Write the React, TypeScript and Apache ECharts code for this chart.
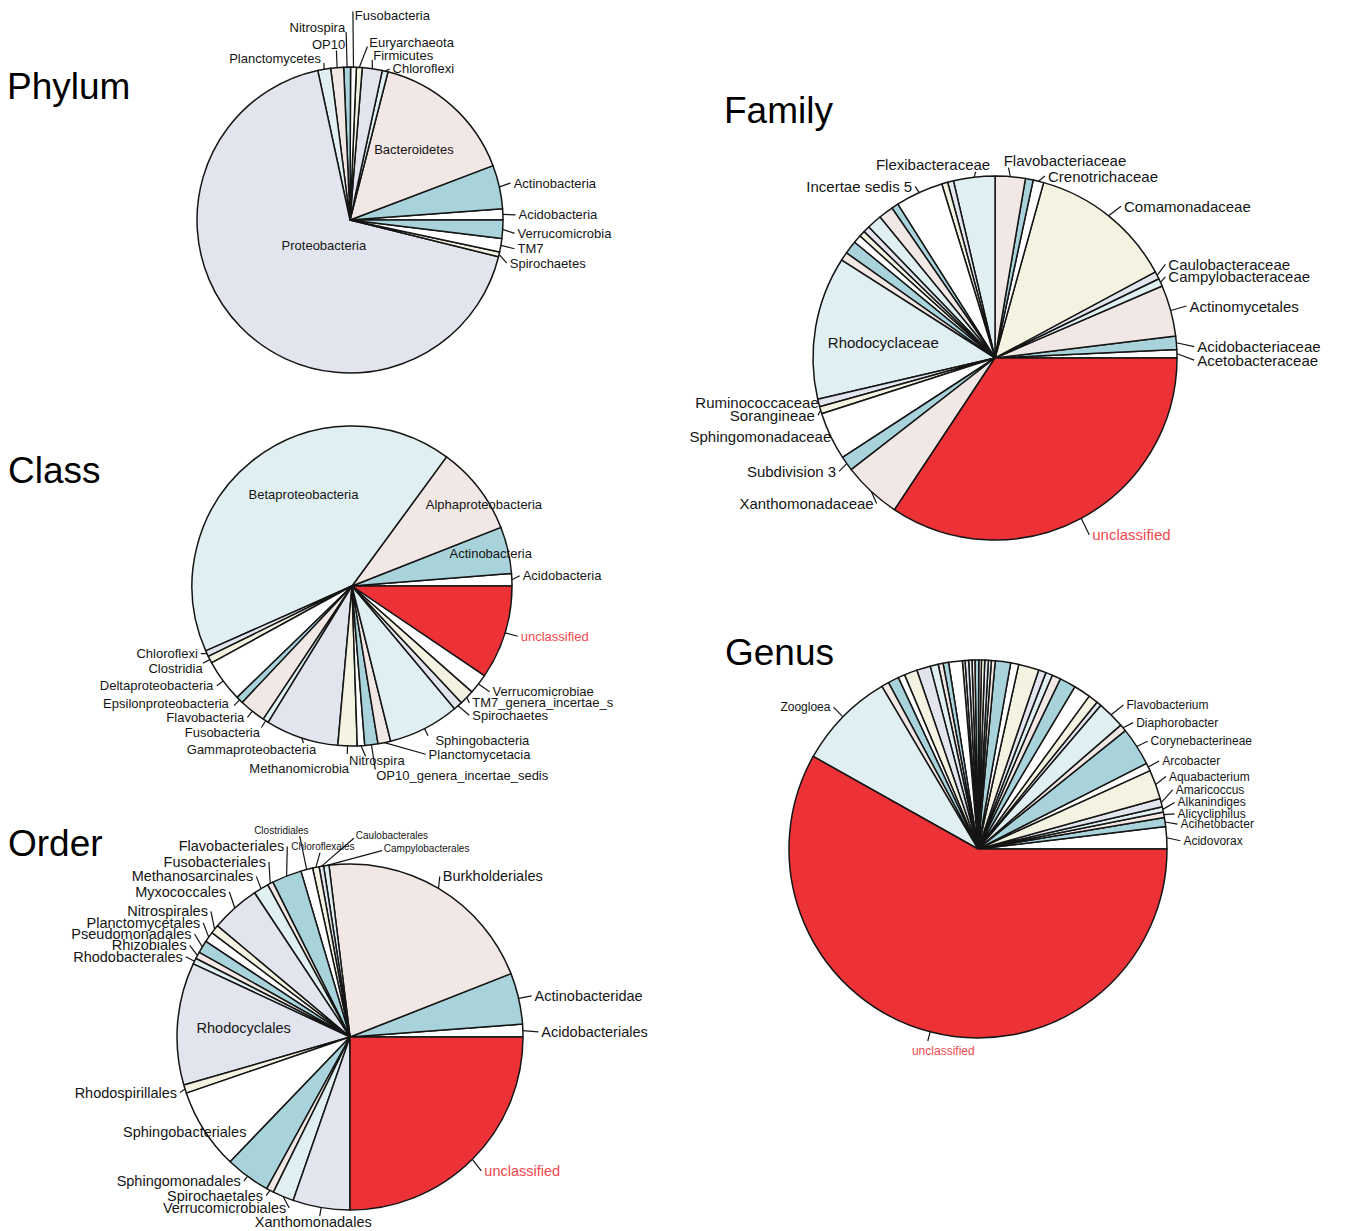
import React, { useEffect, useRef } from "react";
import * as echarts from "echarts";

const FONT = "'Liberation Sans', Arial, Helvetica, sans-serif";
const INK = "#151515";
// Slice fills cycle through this palette in data order; "unclassified" is always red.
const SLICE_CYCLE = ["#ffffff", "#a8d3db", "#f1e7e4", "#e0eff1", "#e3e5ee", "#f4f3e2"];
const UNCLASSIFIED = "unclassified";
const UNCLASSIFIED_FILL = "#ec3137";
const UNCLASSIFIED_TEXT = "#f0494e";

const blank = (n: number) => Array.from({ length: n }, () => "");

// ---------- Phylum (% of reads) ----------
const phylumNames = [
  "Acidobacteria", "Actinobacteria", "Bacteroidetes", "Chloroflexi", "Firmicutes", "Euryarchaeota",
  "Fusobacteria", "Nitrospira", "OP10", "Planctomycetes", "Proteobacteria", "Spirochaetes", "TM7",
  "Verrucomicrobia",
];
const phylumShares = [1.17, 4.61, 15.22, 0.61, 2.11, 0.61, 0.61, 0.72, 1.36, 1.36, 67.75, 0.5, 1.42, 1.94];

// ---------- Class ----------
const classNames = [
  "Acidobacteria", "Actinobacteria", "Alphaproteobacteria", "Betaproteobacteria", "Chloroflexi",
  "Clostridia", "Deltaproteobacteria", "Epsilonproteobacteria", "Flavobacteria", "Fusobacteria",
  "Gammaproteobacteria", "Methanomicrobia", "Nitrospira", "OP10_genera_incertae_sedis",
  "Planctomycetacia", "Sphingobacteria", "Spirochaetes", "TM7_genera_incertae_sedis",
  "Verrucomicrobiae", "unclassified",
];
const classShares = [
  1.25, 4.72, 8.97, 41.69, 0.61, 0.72, 4.28, 0.72, 2.67, 0.58, 7.36, 1.94, 0.75, 1.33, 1.28, 7.19,
  0.92, 1.5, 2.03, 9.47,
];

// ---------- Order ----------
const orderNames = [
  "Acidobacteriales", "Actinobacteridae", "Burkholderiales", "Campylobacterales", "Caulobacterales",
  "Chloroflexales", "Clostridiales", "Flavobacteriales", "Fusobacteriales", "Methanosarcinales",
  "Myxococcales", "Nitrospirales", "Planctomycetales", "Pseudomonadales", "Rhizobiales",
  "Rhodobacterales", "Rhodocyclales", "Rhodospirillales", "Sphingobacteriales", "Sphingomonadales",
  "Spirochaetales", "Verrucomicrobiales", "Xanthomonadales", "unclassified",
];
const orderShares = [
  1.19, 4.78, 20.97, 0.5, 0.42, 0.61, 1.11, 2.78, 0.53, 1.42, 4.58, 0.83, 0.97, 1.17, 0.64, 0.56,
  11.42, 0.78, 7.56, 4.19, 0.69, 1.97, 5.33, 25.0,
];

// ---------- Family (empty name = slice without a label) ----------
const familyNames = [
  "Acetobacteraceae", "Acidobacteriaceae", "Actinomycetales", "Campylobacteraceae", "Caulobacteraceae",
  "Comamonadaceae", "Crenotrichaceae", "", "Flavobacteriaceae", "Flexibacteraceae", "", "",
  "Incertae sedis 5", ...blank(8), "Rhodocyclaceae", "Ruminococcaceae", "Sorangineae",
  "Sphingomonadaceae", "Subdivision 3", "Xanthomonadaceae", "unclassified",
];
const familyShares = [
  0.75, 1.17, 4.56, 0.69, 0.67, 12.86, 0.94, 0.69, 2.67, 3.67, 0.53, 0.53, 4.25, 0.61, 1.31, 1.31,
  0.58, 0.53, 0.72, 1.17, 0.75, 12.69, 0.67, 0.64, 4.25, 1.31, 5.19, 34.31,
];

// ---------- Genus ----------
const genusNames = [
  "Acidovorax", "Acinetobacter", "Alicycliphilus", "Alkanindiges", "Amaricoccus", "Aquabacterium",
  "Arcobacter", "Corynebacterineae", "Diaphorobacter", "Flavobacterium", ...blank(29), "Zoogloea",
  "unclassified",
];
const genusShares = [
  1.89, 0.78, 0.47, 0.44, 0.72, 2.5, 0.69, 3.28, 0.61, 2.36,
  0.42, 0.83, 1.44, 1.39, 0.75, 0.58, 0.64, 1.75, 0.69, 1.31,
  0.33, 0.25, 0.31, 0.28, 0.22, 0.33, 0.25, 0.28, 0.31, 0.22,
  1.17, 0.47, 0.42, 0.69, 1.17, 1.11, 0.58, 0.92, 0.64,
  8.36, 58.14,
];

// ---------- label placement ----------
// Offsets are measured on a pie of half-axes refRx/refRy and rescaled to the drawn radius.
// Labels without an entry use the classic placement: text at 1.1 r, tick from r to 1.05 r.
type Align = "left" | "right" | "center";
type LineSpec = "none" | "tick" | [number, number];
type Spot = { at: [number, number]; align?: Align; line?: LineSpec };
const sp = (x: number, y: number, align?: Align, line?: LineSpec): Spot => ({ at: [x, y], align, line });

interface Panel {
  title: string;
  titleLeft: number;
  titleTop: number;
  names: string[];
  shares: number[];
  center: [number, number];
  radius: number;
  refRx: number;
  refRy: number;
  fontSize: number;
  smallFont?: Record<string, number>;
  truncate?: Record<string, number>;
  spots: Record<string, Spot>;
}

const phylumSpots: Record<string, Spot> = {
  Bacteroidetes: sp(66, -69, "center", "none"),
  Proteobacteria: sp(-27, 25, "center", "none"),
  Actinobacteria: sp(169, -36),
  Acidobacteria: sp(174, -5),
  Verrucomicrobia: sp(173, 13),
  TM7: sp(173, 28),
  Spirochaetes: sp(165, 42),
  Chloroflexi: sp(44, -148, "left", [41, -147]),
  Firmicutes: sp(24, -160, "left", [23, -156]),
  Euryarchaeota: sp(20, -173, "left", [18, -169]),
  Fusobacteria: sp(5, -199, "left", [3, -203]),
  Nitrospira: sp(-5, -187, "right", [-4, -183]),
  OP10: sp(-5, -171, "right", [-14, -165]),
  Planctomycetes: sp(-30, -157, "right", [-27, -153]),
};

const classSpots: Record<string, Spot> = {
  Betaproteobacteria: sp(-50, -89, "center", "none"),
  Alphaproteobacteria: sp(136, -79, "center", "none"),
  Actinobacteria: sp(143, -32, "center", "none"),
  Acidobacteria: sp(176, -10),
  unclassified: sp(174, 49),
  Verrucomicrobiae: sp(145, 103),
  TM7_genera_incertae_sedis: sp(124, 114),
  Spirochaetes: sp(124, 126),
  Sphingobacteria: sp(86, 151, "left", "tick"),
  Planctomycetacia: sp(79, 164),
  OP10_genera_incertae_sedis: sp(25, 185, "left", [24, 179]),
  Nitrospira: sp(-3, 170, "left", [14, 166]),
  Methanomicrobia: sp(-3, 178, "right", "tick"),
  Gammaproteobacteria: sp(-37, 159, "right", [-50, 153]),
  Fusobacteria: sp(-95, 143, "right", "tick"),
  Flavobacteria: sp(-111, 128, "right", "tick"),
  Epsilonproteobacteria: sp(-127, 115, "right", "tick"),
  Deltaproteobacteria: sp(-143, 97, "right", "tick"),
  Clostridia: sp(-154, 80, "right", "tick"),
  Chloroflexi: sp(-159, 66),
};

const orderSpots: Record<string, Spot> = {
  Acidobacteriales: sp(198, -5),
  Actinobacteridae: sp(191, -40),
  Burkholderiales: sp(96, -156),
  unclassified: sp(139, 130),
  Xanthomonadales: sp(-38, 180, "center", "tick"),
  Verrucomicrobiales: sp(-66, 166),
  Spirochaetales: sp(-90, 154),
  Sphingomonadales: sp(-113, 140),
  Sphingobacteriales: sp(-171, 92, "center", "none"),
  Rhodospirillales: sp(-179, 54),
  Rhodocyclales: sp(-110, -9, "center", "none"),
  Rhodobacterales: sp(-173, -78),
  Rhizobiales: sp(-169, -89),
  Pseudomonadales: sp(-164, -100),
  Planctomycetales: sp(-155, -111),
  Nitrospirales: sp(-147, -122),
  Myxococcales: sp(-128, -141),
  Methanosarcinales: sp(-100, -156),
  Fusobacteriales: sp(-87, -170),
  Flavobacteriales: sp(-68, -185),
  Clostridiales: sp(-71, -201, "center", [-52, -195]),
  Chloroflexales: sp(-28, -185, "center", [-31, -179]),
  Caulobacterales: sp(6, -196, "left", [4, -193]),
  Campylobacterales: sp(35, -183, "left", [33, -181]),
};

const familySpots: Record<string, Spot> = {
  Acetobacteraceae: sp(210, 2),
  Acidobacteriaceae: sp(210, -11),
  Actinomycetales: sp(202, -50),
  Campylobacteraceae: sp(180, -78),
  Caulobacteraceae: sp(180, -90),
  Comamonadaceae: sp(134, -146),
  Crenotrichaceae: sp(55, -175),
  Flavobacteriaceae: sp(9, -190, "left", [14, -183]),
  Flexibacteraceae: sp(-5, -186, "right", [-20, -179]),
  "Incertae sedis 5": sp(-86, -165),
  Rhodocyclaceae: sp(-116, -15, "center", "none"),
  Ruminococcaceae: sp(-183, 43),
  Sorangineae: sp(-187, 55),
  Sphingomonadaceae: sp(-170, 75),
  "Subdivision 3": sp(-165, 109),
  Xanthomonadaceae: sp(-126, 140),
  unclassified: sp(101, 170),
};

const genusSpots: Record<string, Spot> = {
  Acidovorax: sp(213, -8),
  Acinetobacter: sp(210, -24),
  Alicycliphilus: sp(207, -34),
  Alkanindiges: sp(207, -45),
  Amaricoccus: sp(205, -57),
  Aquabacterium: sp(198, -70),
  Arcobacter: sp(191, -85),
  Corynebacterineae: sp(179, -104),
  Diaphorobacter: sp(164, -122),
  Flavobacterium: sp(154, -139),
  Zoogloea: sp(-153, -137),
  unclassified: sp(-36, 195, "center", "tick"),
};

const PANELS: Panel[] = [
  {
    title: "Phylum", titleLeft: 7, titleTop: 68, names: phylumNames, shares: phylumShares,
    center: [350, 220], radius: 153, refRx: 158, refRy: 149, fontSize: 13, spots: phylumSpots,
  },
  {
    title: "Class", titleLeft: 8, titleTop: 452, names: classNames, shares: classShares,
    center: [352, 586], radius: 160, refRx: 165, refRy: 156, fontSize: 13, spots: classSpots,
    truncate: { TM7_genera_incertae_sedis: 144 },
  },
  {
    title: "Order", titleLeft: 8, titleTop: 825, names: orderNames, shares: orderShares,
    center: [350, 1037], radius: 173, refRx: 179, refRy: 168, fontSize: 14.5, spots: orderSpots,
    smallFont: { Clostridiales: 10, Chloroflexales: 10, Caulobacterales: 10, Campylobacterales: 10 },
  },
  {
    title: "Family", titleLeft: 724, titleTop: 92, names: familyNames, shares: familyShares,
    center: [995, 358], radius: 182, refRx: 189, refRy: 175, fontSize: 15, spots: familySpots,
  },
  {
    title: "Genus", titleLeft: 725, titleTop: 634, names: genusNames, shares: genusShares,
    center: [978, 849], radius: 189, refRx: 196, refRy: 182.5, fontSize: 12, spots: genusSpots,
  },
];

function placeLabel(p: Panel, mid: number, name: string) {
  const [cx, cy] = p.center;
  const r = p.radius;
  const c = Math.cos(mid);
  const s = Math.sin(mid);
  const onArc = (k: number) => [cx + k * r * c, cy - k * r * s];
  const spot = p.spots[name];
  if (!spot) {
    const [x, y] = onArc(1.1);
    return {
      x, y, align: c >= 0 ? "left" : "right", verticalAlign: "middle",
      labelLinePoints: [onArc(1), onArc(1.05)],
    };
  }
  const kx = r / p.refRx;
  const ky = r / p.refRy;
  const x = cx + spot.at[0] * kx;
  const y = cy + spot.at[1] * ky;
  const align: Align = spot.align ?? (spot.at[0] >= 0 ? "left" : "right");
  const out: any = { x, y, align, verticalAlign: "middle" };
  if (spot.line === "none") return out;
  let end: number[];
  if (spot.line === "tick") {
    end = onArc(1.05);
  } else if (Array.isArray(spot.line)) {
    end = [cx + spot.line[0] * kx, cy + spot.line[1] * ky];
  } else {
    const fs = p.smallFont?.[name] ?? p.fontSize;
    if (align === "left") end = [x - 3, y];
    else if (align === "right") end = [x + 3, y];
    else end = [x, spot.at[1] < 0 ? y + fs * 0.55 : y - fs * 0.55];
  }
  out.labelLinePoints = [onArc(1), end];
  return out;
}

function pieSeries(p: Panel) {
  const total = p.shares.reduce((a, v) => a + v, 0);
  const mids: number[] = [];
  let acc = 0;
  p.shares.forEach((v) => {
    mids.push(((acc + v / 2) / total) * Math.PI * 2);
    acc += v;
  });

  const data = p.names.map((name, i) => {
    const labelled = name !== "";
    const isUnc = name === UNCLASSIFIED;
    const spot = p.spots[name];
    const inside = !!spot && spot.line === "none";
    const label: any = {
      show: labelled,
      color: isUnc ? UNCLASSIFIED_TEXT : INK,
      fontSize: p.smallFont?.[name] ?? p.fontSize,
    };
    const cut = p.truncate?.[name];
    if (cut) {
      label.width = cut;
      label.overflow = "truncate";
      label.ellipsis = "";
    }
    return {
      name: labelled ? name : `slice ${i + 1}`,
      value: p.shares[i],
      itemStyle: { color: isUnc ? UNCLASSIFIED_FILL : SLICE_CYCLE[i % SLICE_CYCLE.length] },
      label,
      labelLine: { show: labelled && !inside },
    };
  });

  return {
    type: "pie",
    name: p.title,
    center: p.center,
    radius: p.radius,
    startAngle: 0,
    clockwise: false,
    silent: true,
    avoidLabelOverlap: false,
    minShowLabelAngle: 0,
    emphasis: { disabled: true },
    itemStyle: { borderColor: INK, borderWidth: 1.5 },
    label: {
      show: true,
      position: "outside",
      fontFamily: FONT,
      fontSize: p.fontSize,
      color: INK,
      formatter: "{b}",
    },
    labelLine: { show: true, lineStyle: { color: INK, width: 1.2 } },
    labelLayout: (params: any) => {
      const i = params.dataIndex;
      return placeLabel(p, mids[i], p.names[i]);
    },
    data,
  };
}

function buildOption() {
  return {
    animation: false,
    backgroundColor: "#ffffff",
    title: PANELS.map((p) => ({
      text: p.title,
      left: p.titleLeft,
      top: p.titleTop,
      padding: 0,
      textStyle: { fontFamily: FONT, fontSize: 37, fontWeight: "normal", color: "#000000" },
    })),
    series: PANELS.map(pieSeries),
  };
}

export default function App() {
  const ref = useRef<HTMLDivElement>(null);
  useEffect(() => {
    document.body.style.margin = "0";
    const el = ref.current;
    if (!el) return;
    const chart = echarts.init(el, null, { renderer: "svg" });
    chart.setOption(buildOption() as any);
    return () => chart.dispose();
  }, []);
  return <div ref={ref} style={{ width: 1349, height: 1231, background: "#ffffff" }} />;
}
